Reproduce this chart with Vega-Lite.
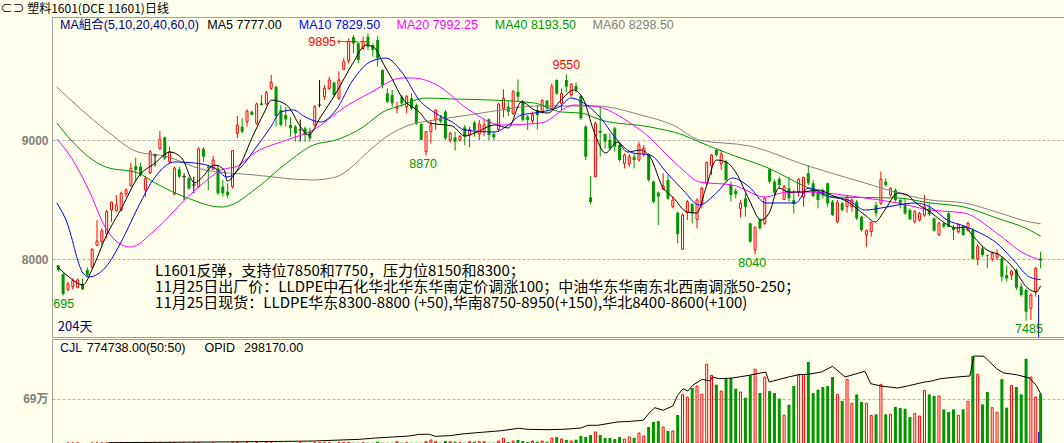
{
"$schema":"https://vega.github.io/schema/vega-lite/v6.json",
"background":"#FFFFEC",
"padding":{"top":2,"left":0,"right":0,"bottom":0},
"spacing":0,
"title":{"text":"⊂⊃ 塑料1601(DCE 11601)日线","anchor":"start","frame":"bounds","font":"Noto Sans CJK SC","fontSize":12,"fontWeight":"normal","color":"#000000","offset":1},
"config":{"view":{"stroke":"#A0A0A0"},"axisY":{"grid":true,"gridDash":[3,2],"gridColor":"#B4B4B4","ticks":false,"domain":false,"labelColor":"#808080","labelFont":"Liberation Sans, Noto Sans CJK SC","labelFontWeight":"bold","labelFontSize":12,"labelPadding":4,"minExtent":51,"maxExtent":51}},
"datasets":{
"k":[
{"i":0,"o":7947,"h":7952,"l":7896,"c":7910,"v":800},
{"i":1,"o":7877,"h":7882,"l":7695,"c":7709,"v":800},
{"i":2,"o":7748,"h":7813,"l":7729,"c":7793,"v":800},
{"i":3,"o":7771,"h":7840,"l":7748,"c":7821,"v":800},
{"i":4,"o":7765,"h":7840,"l":7757,"c":7827,"v":800},
{"i":5,"o":7793,"h":7840,"l":7743,"c":7748,"v":800},
{"i":6,"o":7910,"h":7933,"l":7854,"c":7868,"v":800},
{"i":7,"o":7933,"h":8092,"l":7924,"c":8084,"v":800},
{"i":8,"o":8117,"h":8329,"l":8111,"c":8153,"v":800},
{"i":9,"o":8150,"h":8260,"l":8120,"c":8240,"v":800},
{"i":10,"o":8212,"h":8413,"l":8176,"c":8399,"v":800},
{"i":11,"o":8413,"h":8483,"l":8315,"c":8478,"v":800},
{"i":12,"o":8408,"h":8539,"l":8399,"c":8455,"v":800},
{"i":13,"o":8413,"h":8567,"l":8399,"c":8553,"v":800},
{"i":14,"o":8547,"h":8595,"l":8525,"c":8581,"v":800},
{"i":15,"o":8617,"h":8810,"l":8609,"c":8763,"v":800},
{"i":16,"o":8782,"h":8852,"l":8665,"c":8749,"v":800},
{"i":17,"o":8777,"h":8810,"l":8693,"c":8707,"v":800},
{"i":18,"o":8581,"h":8701,"l":8525,"c":8679,"v":800},
{"i":19,"o":8726,"h":8916,"l":8715,"c":8902,"v":800},
{"i":20,"o":8869,"h":8888,"l":8777,"c":8869,"v":800},
{"i":21,"o":8930,"h":9075,"l":8916,"c":9006,"v":800},
{"i":22,"o":9022,"h":9028,"l":8832,"c":8846,"v":800},
{"i":23,"o":8818,"h":8944,"l":8804,"c":8902,"v":800},
{"i":24,"o":8547,"h":8777,"l":8539,"c":8763,"v":800},
{"i":25,"o":8754,"h":8777,"l":8679,"c":8693,"v":800},
{"i":26,"o":8693,"h":8721,"l":8497,"c":8693,"v":800},
{"i":27,"o":8679,"h":8693,"l":8581,"c":8595,"v":800},
{"i":28,"o":8623,"h":8693,"l":8553,"c":8623,"v":800},
{"i":29,"o":8609,"h":8939,"l":8595,"c":8925,"v":800},
{"i":30,"o":8925,"h":8939,"l":8818,"c":8860,"v":800},
{"i":31,"o":8777,"h":8790,"l":8581,"c":8763,"v":800},
{"i":32,"o":8754,"h":8866,"l":8749,"c":8832,"v":800},
{"i":33,"o":8763,"h":8790,"l":8539,"c":8553,"v":800},
{"i":34,"o":8609,"h":8665,"l":8525,"c":8553,"v":800},
{"i":35,"o":8567,"h":8637,"l":8511,"c":8539,"v":800},
{"i":36,"o":8609,"h":8916,"l":8595,"c":8911,"v":3000},
{"i":37,"o":9056,"h":9201,"l":9014,"c":9126,"v":3000},
{"i":38,"o":9112,"h":9182,"l":9056,"c":9070,"v":3000},
{"i":39,"o":9154,"h":9257,"l":9112,"c":9243,"v":3000},
{"i":40,"o":9237,"h":9243,"l":9210,"c":9210,"v":3000},
{"i":41,"o":9140,"h":9313,"l":9126,"c":9302,"v":3000},
{"i":42,"o":9307,"h":9377,"l":9293,"c":9293,"v":3000},
{"i":43,"o":9302,"h":9411,"l":9293,"c":9397,"v":3000},
{"i":44,"o":9433,"h":9545,"l":9419,"c":9483,"v":3000},
{"i":45,"o":9447,"h":9452,"l":9112,"c":9201,"v":3000},
{"i":46,"o":9251,"h":9293,"l":9112,"c":9126,"v":3000},
{"i":47,"o":9210,"h":9279,"l":9112,"c":9173,"v":3000},
{"i":48,"o":9126,"h":9190,"l":9028,"c":9098,"v":3000},
{"i":49,"o":9112,"h":9126,"l":8986,"c":9056,"v":3000},
{"i":50,"o":9084,"h":9173,"l":8986,"c":9084,"v":3000},
{"i":51,"o":9098,"h":9112,"l":8986,"c":9042,"v":3000},
{"i":52,"o":9070,"h":9103,"l":8986,"c":9014,"v":3000},
{"i":53,"o":9126,"h":9293,"l":9112,"c":9279,"v":3000},
{"i":54,"o":9293,"h":9503,"l":9274,"c":9293,"v":3000},
{"i":55,"o":9363,"h":9461,"l":9335,"c":9433,"v":3000},
{"i":56,"o":9433,"h":9531,"l":9419,"c":9503,"v":3000},
{"i":57,"o":9481,"h":9489,"l":9363,"c":9377,"v":3000},
{"i":58,"o":9349,"h":9573,"l":9335,"c":9503,"v":5200},
{"i":59,"o":9592,"h":9685,"l":9587,"c":9657,"v":5200},
{"i":60,"o":9665,"h":9852,"l":9643,"c":9824,"v":5200},
{"i":61,"o":9861,"h":9880,"l":9726,"c":9810,"v":4000},
{"i":62,"o":9810,"h":9824,"l":9643,"c":9671,"v":5200},
{"i":63,"o":9768,"h":9866,"l":9754,"c":9824,"v":5200},
{"i":64,"o":9866,"h":9895,"l":9754,"c":9782,"v":5200},
{"i":65,"o":9796,"h":9810,"l":9698,"c":9754,"v":5000},
{"i":66,"o":9838,"h":9872,"l":9615,"c":9685,"v":20900},
{"i":67,"o":9587,"h":9592,"l":9433,"c":9461,"v":5200},
{"i":68,"o":9391,"h":9433,"l":9307,"c":9321,"v":5200},
{"i":69,"o":9377,"h":9419,"l":9279,"c":9307,"v":5200},
{"i":70,"o":9265,"h":9321,"l":9223,"c":9279,"v":20900},
{"i":71,"o":9363,"h":9377,"l":9279,"c":9307,"v":5200},
{"i":72,"o":9279,"h":9377,"l":9223,"c":9363,"v":5200},
{"i":73,"o":9349,"h":9391,"l":9251,"c":9265,"v":5200},
{"i":74,"o":9293,"h":9307,"l":9126,"c":9140,"v":5200},
{"i":75,"o":9134,"h":9140,"l":9000,"c":9000,"v":5200},
{"i":76,"o":8902,"h":9070,"l":8870,"c":9070,"v":20900},
{"i":77,"o":9070,"h":9168,"l":8972,"c":9126,"v":47000},
{"i":78,"o":9168,"h":9257,"l":9084,"c":9251,"v":20900},
{"i":79,"o":9190,"h":9210,"l":9140,"c":9154,"v":5200},
{"i":80,"o":9237,"h":9251,"l":9000,"c":9014,"v":31400},
{"i":81,"o":9000,"h":9070,"l":8978,"c":9056,"v":20900},
{"i":82,"o":9022,"h":9070,"l":8911,"c":8986,"v":20900},
{"i":83,"o":9000,"h":9042,"l":8986,"c":9028,"v":5200},
{"i":84,"o":9106,"h":9126,"l":8958,"c":9028,"v":5200},
{"i":85,"o":9042,"h":9112,"l":8939,"c":9089,"v":20900},
{"i":86,"o":9145,"h":9162,"l":9028,"c":9084,"v":20900},
{"i":87,"o":9050,"h":9168,"l":9000,"c":9134,"v":20900},
{"i":88,"o":9070,"h":9173,"l":9034,"c":9126,"v":20900},
{"i":89,"o":9173,"h":9182,"l":9000,"c":9042,"v":5200},
{"i":90,"o":9050,"h":9070,"l":9000,"c":9022,"v":5200},
{"i":91,"o":9089,"h":9307,"l":9070,"c":9302,"v":31400},
{"i":92,"o":9265,"h":9425,"l":9190,"c":9349,"v":73200},
{"i":93,"o":9279,"h":9330,"l":9201,"c":9237,"v":15000},
{"i":94,"o":9223,"h":9419,"l":9210,"c":9405,"v":31400},
{"i":95,"o":9405,"h":9508,"l":9321,"c":9363,"v":47000},
{"i":96,"o":9321,"h":9335,"l":9154,"c":9168,"v":31400},
{"i":97,"o":9196,"h":9210,"l":9084,"c":9168,"v":15000},
{"i":98,"o":9162,"h":9237,"l":9140,"c":9210,"v":31400},
{"i":99,"o":9251,"h":9293,"l":9089,"c":9210,"v":20900},
{"i":100,"o":9237,"h":9341,"l":9223,"c":9330,"v":31400},
{"i":101,"o":9330,"h":9335,"l":9251,"c":9265,"v":20900},
{"i":102,"o":9265,"h":9475,"l":9251,"c":9447,"v":78400},
{"i":103,"o":9503,"h":9508,"l":9377,"c":9390,"v":94100},
{"i":104,"o":9307,"h":9433,"l":9251,"c":9391,"v":62700},
{"i":105,"o":9503,"h":9550,"l":9400,"c":9447,"v":47000},
{"i":106,"o":9377,"h":9475,"l":9363,"c":9467,"v":31400},
{"i":107,"o":9453,"h":9480,"l":9400,"c":9419,"v":52000},
{"i":108,"o":9369,"h":9377,"l":9168,"c":9182,"v":110000},
{"i":109,"o":9112,"h":9126,"l":8832,"c":8860,"v":94100},
{"i":110,"o":8520,"h":8700,"l":8460,"c":8480,"v":125500},
{"i":111,"o":8693,"h":9154,"l":8687,"c":9140,"v":172500},
{"i":112,"o":9078,"h":9279,"l":8860,"c":9061,"v":125500},
{"i":113,"o":9050,"h":9056,"l":8930,"c":8986,"v":78400},
{"i":114,"o":9000,"h":9056,"l":8916,"c":8930,"v":78400},
{"i":115,"o":9098,"h":9112,"l":8902,"c":8944,"v":62700},
{"i":116,"o":8958,"h":8972,"l":8818,"c":8832,"v":94100},
{"i":117,"o":8804,"h":8888,"l":8762,"c":8874,"v":62700},
{"i":118,"o":8799,"h":8882,"l":8771,"c":8860,"v":94100},
{"i":119,"o":8860,"h":8888,"l":8762,"c":8832,"v":78400},
{"i":120,"o":8832,"h":8986,"l":8818,"c":8958,"v":156800},
{"i":121,"o":8888,"h":8958,"l":8860,"c":8930,"v":110000},
{"i":122,"o":8874,"h":8888,"l":8651,"c":8665,"v":251000},
{"i":123,"o":8651,"h":8659,"l":8469,"c":8483,"v":329000},
{"i":124,"o":8559,"h":8567,"l":8288,"c":8525,"v":345000},
{"i":125,"o":8587,"h":8721,"l":8581,"c":8615,"v":251000},
{"i":126,"o":8665,"h":8707,"l":8497,"c":8511,"v":188000},
{"i":127,"o":8441,"h":8525,"l":8427,"c":8497,"v":188000},
{"i":128,"o":8391,"h":8399,"l":8134,"c":8212,"v":439000},
{"i":129,"o":8084,"h":8385,"l":8078,"c":8371,"v":758000},
{"i":130,"o":8391,"h":8497,"l":8330,"c":8483,"v":721000},
{"i":131,"o":8463,"h":8469,"l":8301,"c":8385,"v":862500},
{"i":132,"o":8335,"h":8511,"l":8260,"c":8497,"v":894000},
{"i":133,"o":8469,"h":8609,"l":8427,"c":8595,"v":763000},
{"i":134,"o":8637,"h":8818,"l":8623,"c":8813,"v":1234000},
{"i":135,"o":8782,"h":8882,"l":8707,"c":8874,"v":1061000},
{"i":136,"o":8916,"h":8930,"l":8860,"c":8874,"v":915000},
{"i":137,"o":8799,"h":8916,"l":8748,"c":8882,"v":815000},
{"i":138,"o":8818,"h":8832,"l":8651,"c":8665,"v":1009000},
{"i":139,"o":8623,"h":8651,"l":8483,"c":8539,"v":1019000},
{"i":140,"o":8575,"h":8595,"l":8511,"c":8545,"v":852000},
{"i":141,"o":8427,"h":8497,"l":8352,"c":8469,"v":800000},
{"i":142,"o":8511,"h":8553,"l":8357,"c":8441,"v":711000},
{"i":143,"o":8301,"h":8307,"l":8139,"c":8148,"v":1061000},
{"i":144,"o":8078,"h":8274,"l":8040,"c":8268,"v":1156000},
{"i":145,"o":8335,"h":8343,"l":8246,"c":8260,"v":784000},
{"i":146,"o":8301,"h":8525,"l":8288,"c":8511,"v":1035000},
{"i":147,"o":8754,"h":8762,"l":8637,"c":8651,"v":815000},
{"i":148,"o":8651,"h":8670,"l":8525,"c":8559,"v":784000},
{"i":149,"o":8673,"h":8693,"l":8595,"c":8623,"v":695000},
{"i":150,"o":8503,"h":8623,"l":8497,"c":8609,"v":434000},
{"i":151,"o":8595,"h":8693,"l":8483,"c":8511,"v":601000},
{"i":152,"o":8497,"h":8581,"l":8385,"c":8463,"v":894000},
{"i":153,"o":8567,"h":8679,"l":8525,"c":8670,"v":1077000},
{"i":154,"o":8525,"h":8693,"l":8441,"c":8687,"v":1071000},
{"i":155,"o":8721,"h":8790,"l":8623,"c":8637,"v":1270000},
{"i":156,"o":8637,"h":8665,"l":8519,"c":8531,"v":784000},
{"i":157,"o":8567,"h":8581,"l":8427,"c":8497,"v":836000},
{"i":158,"o":8581,"h":8595,"l":8511,"c":8539,"v":878000},
{"i":159,"o":8637,"h":8642,"l":8441,"c":8469,"v":894000},
{"i":160,"o":8483,"h":8497,"l":8363,"c":8371,"v":1035000},
{"i":161,"o":8315,"h":8497,"l":8301,"c":8475,"v":763000},
{"i":162,"o":8469,"h":8483,"l":8399,"c":8413,"v":659000},
{"i":163,"o":8441,"h":8531,"l":8391,"c":8519,"v":998000},
{"i":164,"o":8441,"h":8511,"l":8399,"c":8497,"v":622000},
{"i":165,"o":8483,"h":8497,"l":8329,"c":8343,"v":763000},
{"i":166,"o":8357,"h":8363,"l":8232,"c":8246,"v":643000},
{"i":167,"o":8204,"h":8251,"l":8106,"c":8240,"v":622000},
{"i":168,"o":8232,"h":8315,"l":8190,"c":8307,"v":434000},
{"i":169,"o":8455,"h":8483,"l":8357,"c":8385,"v":450000},
{"i":170,"o":8469,"h":8735,"l":8455,"c":8670,"v":920000},
{"i":171,"o":8651,"h":8679,"l":8609,"c":8623,"v":450000},
{"i":172,"o":8539,"h":8603,"l":8525,"c":8595,"v":450000},
{"i":173,"o":8581,"h":8595,"l":8483,"c":8497,"v":565000},
{"i":174,"o":8497,"h":8511,"l":8427,"c":8455,"v":549000},
{"i":175,"o":8455,"h":8511,"l":8371,"c":8385,"v":538000},
{"i":176,"o":8413,"h":8427,"l":8329,"c":8335,"v":408000},
{"i":177,"o":8315,"h":8413,"l":8301,"c":8399,"v":460000},
{"i":178,"o":8329,"h":8399,"l":8315,"c":8385,"v":423000},
{"i":179,"o":8371,"h":8539,"l":8357,"c":8441,"v":826000},
{"i":180,"o":8427,"h":8469,"l":8363,"c":8380,"v":763000},
{"i":181,"o":8343,"h":8352,"l":8232,"c":8240,"v":737000},
{"i":182,"o":8204,"h":8315,"l":8195,"c":8301,"v":737000},
{"i":183,"o":8301,"h":8315,"l":8260,"c":8274,"v":528000},
{"i":184,"o":8385,"h":8399,"l":8268,"c":8274,"v":486000},
{"i":185,"o":8268,"h":8288,"l":8162,"c":8246,"v":528000},
{"i":186,"o":8232,"h":8301,"l":8218,"c":8288,"v":434000},
{"i":187,"o":8274,"h":8279,"l":8195,"c":8204,"v":528000},
{"i":188,"o":8246,"h":8315,"l":8232,"c":8301,"v":653000},
{"i":189,"o":8246,"h":8260,"l":8000,"c":8003,"v":1364000},
{"i":190,"o":8000,"h":8128,"l":7952,"c":8106,"v":1077000},
{"i":191,"o":8092,"h":8106,"l":8022,"c":8036,"v":606000},
{"i":192,"o":8036,"h":8040,"l":7924,"c":8030,"v":800000},
{"i":193,"o":8003,"h":8064,"l":7980,"c":8050,"v":554000},
{"i":194,"o":8017,"h":8084,"l":7994,"c":8050,"v":481000},
{"i":195,"o":8008,"h":8022,"l":7813,"c":7854,"v":1004000},
{"i":196,"o":7868,"h":7944,"l":7813,"c":7840,"v":554000},
{"i":197,"o":7868,"h":7910,"l":7827,"c":7902,"v":904000},
{"i":198,"o":7910,"h":7924,"l":7743,"c":7762,"v":878000},
{"i":199,"o":7771,"h":7799,"l":7687,"c":7701,"v":763000},
{"i":200,"o":7743,"h":7757,"l":7485,"c":7561,"v":1322000},
{"i":201,"o":7589,"h":7715,"l":7491,"c":7701,"v":1035000},
{"i":202,"o":7729,"h":7938,"l":7687,"c":7924,"v":721000},
{"i":203,"o":8008,"h":8064,"l":7924,"c":7989,"v":774738}
],
"ma":[
{"s":"60","i":-0.3,"p":9444},{"s":"60","i":9.8,"p":9084},{"s":"60","i":16.5,"p":8899},{"s":"60","i":22,"p":8866},{"s":"60","i":30.2,"p":8749},{"s":"60","i":40.5,"p":8707},{"s":"60","i":52.7,"p":8665},{"s":"60","i":57.4,"p":8690},{"s":"60","i":59.9,"p":8749},{"s":"60","i":64.4,"p":8916},{"s":"60","i":67.7,"p":9025},{"s":"60","i":72.6,"p":9126},{"s":"60","i":77.9,"p":9168},{"s":"60","i":84.9,"p":9210},{"s":"60","i":91.6,"p":9252},{"s":"60","i":98.4,"p":9285},{"s":"60","i":111.5,"p":9285},{"s":"60","i":113.5,"p":9277},{"s":"60","i":120.3,"p":9210},{"s":"60","i":127,"p":9126},{"s":"60","i":132.5,"p":9000},{"s":"60","i":142.8,"p":8950},{"s":"60","i":155,"p":8782},{"s":"60","i":159.7,"p":8723},{"s":"60","i":166.7,"p":8640},{"s":"60","i":173.5,"p":8556},{"s":"60","i":180.2,"p":8497},{"s":"60","i":187.2,"p":8472},{"s":"60","i":193.9,"p":8397},{"s":"60","i":200.7,"p":8313},{"s":"60","i":203,"p":8298.5},
{"s":"40","i":-0.3,"p":9143},{"s":"40","i":3,"p":8983},{"s":"40","i":6.3,"p":8858},{"s":"40","i":9.8,"p":8774},{"s":"40","i":16.5,"p":8723},{"s":"40","i":20,"p":8640},{"s":"40","i":26.7,"p":8514},{"s":"40","i":33.7,"p":8438},{"s":"40","i":35.7,"p":8455},{"s":"40","i":40.5,"p":8581},{"s":"40","i":47.2,"p":8807},{"s":"40","i":52.7,"p":8958},{"s":"40","i":57.4,"p":9000},{"s":"40","i":63,"p":9109},{"s":"40","i":67.1,"p":9235},{"s":"40","i":71.1,"p":9293},{"s":"40","i":75.9,"p":9352},{"s":"40","i":81.4,"p":9344},{"s":"40","i":89.6,"p":9335},{"s":"40","i":98.4,"p":9310},{"s":"40","i":103.9,"p":9235},{"s":"40","i":108,"p":9226},{"s":"40","i":112.1,"p":9168},{"s":"40","i":122.3,"p":9109},{"s":"40","i":129.1,"p":9042},{"s":"40","i":132.5,"p":8983},{"s":"40","i":139.3,"p":8874},{"s":"40","i":146.2,"p":8774},{"s":"40","i":155,"p":8598},{"s":"40","i":159.7,"p":8522},{"s":"40","i":173.5,"p":8514},{"s":"40","i":180.2,"p":8472},{"s":"40","i":187.2,"p":8438},{"s":"40","i":193.9,"p":8346},{"s":"40","i":200.7,"p":8246},{"s":"40","i":203,"p":8193.5},
{"s":"20","i":-0.3,"p":9008},{"s":"20","i":1.6,"p":8916},{"s":"20","i":6.3,"p":8581},{"s":"20","i":9.8,"p":8262},{"s":"20","i":13.2,"p":8120},{"s":"20","i":14.9,"p":8103},{"s":"20","i":20,"p":8246},{"s":"20","i":26.7,"p":8522},{"s":"20","i":30.2,"p":8648},{"s":"20","i":33.7,"p":8749},{"s":"20","i":37,"p":8782},{"s":"20","i":40.5,"p":8891},{"s":"20","i":47.2,"p":9000},{"s":"20","i":52.7,"p":9084},{"s":"20","i":58.9,"p":9268},{"s":"20","i":64.4,"p":9394},{"s":"20","i":71.1,"p":9520},{"s":"20","i":73.2,"p":9520},{"s":"20","i":77.9,"p":9469},{"s":"20","i":84.9,"p":9252},{"s":"20","i":91.6,"p":9126},{"s":"20","i":99.8,"p":9143},{"s":"20","i":106.5,"p":9293},{"s":"20","i":110.6,"p":9285},{"s":"20","i":118.8,"p":9126},{"s":"20","i":122.3,"p":9017},{"s":"20","i":125.8,"p":8874},{"s":"20","i":129.1,"p":8749},{"s":"20","i":132.5,"p":8648},{"s":"20","i":139.3,"p":8623},{"s":"20","i":146.2,"p":8522},{"s":"20","i":149.5,"p":8556},{"s":"20","i":155,"p":8564},{"s":"20","i":165.3,"p":8522},{"s":"20","i":173.5,"p":8472},{"s":"20","i":180.2,"p":8413},{"s":"20","i":187.2,"p":8388},{"s":"20","i":193.9,"p":8221},{"s":"20","i":199.4,"p":8053},{"s":"20","i":203,"p":7992.25},
{"s":"10","i":-0.3,"p":8472},{"s":"10","i":1.6,"p":8329},{"s":"10","i":5.1,"p":7885},{"s":"10","i":6.3,"p":7852},{"s":"10","i":9.8,"p":7935},{"s":"10","i":13.2,"p":8162},{"s":"10","i":16.5,"p":8438},{"s":"10","i":20,"p":8690},{"s":"10","i":24.1,"p":8816},{"s":"10","i":28.2,"p":8807},{"s":"10","i":32.3,"p":8765},{"s":"10","i":34.9,"p":8690},{"s":"10","i":37.8,"p":8774},{"s":"10","i":40.5,"p":8916},{"s":"10","i":43.9,"p":9109},{"s":"10","i":46,"p":9235},{"s":"10","i":48.6,"p":9252},{"s":"10","i":50.7,"p":9201},{"s":"10","i":54.2,"p":9151},{"s":"10","i":57.4,"p":9252},{"s":"10","i":60.9,"p":9503},{"s":"10","i":64.4,"p":9654},{"s":"10","i":67.7,"p":9687},{"s":"10","i":71.1,"p":9562},{"s":"10","i":74.6,"p":9335},{"s":"10","i":77.9,"p":9226},{"s":"10","i":81.4,"p":9151},{"s":"10","i":84,"p":9084},{"s":"10","i":90.2,"p":9067},{"s":"10","i":93,"p":9126},{"s":"10","i":95.7,"p":9210},{"s":"10","i":98.4,"p":9226},{"s":"10","i":103.9,"p":9285},{"s":"10","i":105.9,"p":9352},{"s":"10","i":108.6,"p":9310},{"s":"10","i":112.1,"p":9184},{"s":"10","i":115.5,"p":9000},{"s":"10","i":118.8,"p":8891},{"s":"10","i":122.3,"p":8874},{"s":"10","i":125.8,"p":8723},{"s":"10","i":129.1,"p":8581},{"s":"10","i":132.5,"p":8455},{"s":"10","i":136,"p":8556},{"s":"10","i":139.3,"p":8682},{"s":"10","i":142.8,"p":8606},{"s":"10","i":146.2,"p":8472},{"s":"10","i":152.4,"p":8472},{"s":"10","i":155,"p":8598},{"s":"10","i":159.7,"p":8522},{"s":"10","i":163.2,"p":8497},{"s":"10","i":166.7,"p":8413},{"s":"10","i":170,"p":8430},{"s":"10","i":173.5,"p":8455},{"s":"10","i":177,"p":8472},{"s":"10","i":180.2,"p":8438},{"s":"10","i":183.7,"p":8329},{"s":"10","i":187.2,"p":8279},{"s":"10","i":190.5,"p":8221},{"s":"10","i":193.9,"p":8137},{"s":"10","i":197.4,"p":7994},{"s":"10","i":200.7,"p":7852},{"s":"10","i":203,"p":7829.5},
{"s":"5","i":-0.3,"p":7944},{"s":"5","i":2.2,"p":7852},{"s":"5","i":5.1,"p":7785},{"s":"5","i":7.1,"p":7926},{"s":"5","i":9.8,"p":8187},{"s":"5","i":13.2,"p":8438},{"s":"5","i":16.5,"p":8690},{"s":"5","i":20,"p":8807},{"s":"5","i":23.1,"p":8899},{"s":"5","i":25.5,"p":8849},{"s":"5","i":28.2,"p":8640},{"s":"5","i":29.6,"p":8682},{"s":"5","i":32.3,"p":8790},{"s":"5","i":34.3,"p":8749},{"s":"5","i":34.9,"p":8656},{"s":"5","i":37,"p":8749},{"s":"5","i":40.5,"p":9059},{"s":"5","i":42.5,"p":9226},{"s":"5","i":44.1,"p":9335},{"s":"5","i":47.2,"p":9293},{"s":"5","i":50.1,"p":9109},{"s":"5","i":51.7,"p":9042},{"s":"5","i":54.2,"p":9193},{"s":"5","i":57.4,"p":9394},{"s":"5","i":60.9,"p":9645},{"s":"5","i":63.6,"p":9796},{"s":"5","i":65.4,"p":9771},{"s":"5","i":67.1,"p":9645},{"s":"5","i":69.1,"p":9503},{"s":"5","i":71.1,"p":9352},{"s":"5","i":74.6,"p":9235},{"s":"5","i":76.7,"p":9143},{"s":"5","i":81.4,"p":9117},{"s":"5","i":84,"p":9034},{"s":"5","i":86.1,"p":9059},{"s":"5","i":90.2,"p":9126},{"s":"5","i":93,"p":9101},{"s":"5","i":95.7,"p":9319},{"s":"5","i":98.4,"p":9252},{"s":"5","i":101.2,"p":9226},{"s":"5","i":103.9,"p":9335},{"s":"5","i":106.5,"p":9419},{"s":"5","i":108.6,"p":9335},{"s":"5","i":110.6,"p":9084},{"s":"5","i":113.1,"p":8891},{"s":"5","i":115.5,"p":8983},{"s":"5","i":117.6,"p":8899},{"s":"5","i":120.3,"p":8916},{"s":"5","i":122.3,"p":8858},{"s":"5","i":125,"p":8598},{"s":"5","i":127,"p":8522},{"s":"5","i":129.9,"p":8397},{"s":"5","i":131.9,"p":8388},{"s":"5","i":133.9,"p":8606},{"s":"5","i":136,"p":8832},{"s":"5","i":138,"p":8816},{"s":"5","i":140.1,"p":8723},{"s":"5","i":142.8,"p":8497},{"s":"5","i":145.2,"p":8329},{"s":"5","i":146.9,"p":8388},{"s":"5","i":148.9,"p":8598},{"s":"5","i":150.9,"p":8564},{"s":"5","i":153.6,"p":8564},{"s":"5","i":157.1,"p":8581},{"s":"5","i":159.7,"p":8539},{"s":"5","i":163.2,"p":8480},{"s":"5","i":166.7,"p":8371},{"s":"5","i":168.8,"p":8313},{"s":"5","i":170.8,"p":8413},{"s":"5","i":173.5,"p":8556},{"s":"5","i":175.5,"p":8539},{"s":"5","i":177,"p":8480},{"s":"5","i":180.2,"p":8397},{"s":"5","i":182.3,"p":8329},{"s":"5","i":185.7,"p":8262},{"s":"5","i":187.2,"p":8271},{"s":"5","i":189.2,"p":8187},{"s":"5","i":191.9,"p":8078},{"s":"5","i":194.5,"p":8036},{"s":"5","i":197.4,"p":7926},{"s":"5","i":200.1,"p":7768},{"s":"5","i":202.1,"p":7726},{"s":"5","i":203,"p":7777}
],
"op":[
{"i":10.4,"v":2000},{"i":31.7,"v":6000},{"i":43.9,"v":9000},{"i":52.7,"v":12000},{"i":62.4,"v":22400},{"i":65.6,"v":30200},{"i":69.1,"v":36300},{"i":72.6,"v":42300},{"i":74.6,"v":52600},{"i":76.7,"v":52600},{"i":77.9,"v":40500},{"i":80.8,"v":44100},{"i":84,"v":56200},{"i":87.5,"v":64700},{"i":91.6,"v":74400},{"i":95.1,"v":88900},{"i":97.1,"v":82900},{"i":101.2,"v":80400},{"i":104.5,"v":82900},{"i":108,"v":90700},{"i":109.4,"v":107000},{"i":111.5,"v":107000},{"i":115.5,"v":127000},{"i":118.2,"v":131200},{"i":120.9,"v":137300},{"i":122.3,"v":187500},{"i":123.3,"v":213500},{"i":125,"v":197800},{"i":127,"v":223800},{"i":128,"v":288500},{"i":129.1,"v":328400},{"i":130.1,"v":314500},{"i":131.1,"v":349000},{"i":133.1,"v":385300},{"i":134.6,"v":375000},{"i":135.2,"v":399200},{"i":136.6,"v":388900},{"i":139.3,"v":393100},{"i":142.8,"v":409400},{"i":146.2,"v":429400},{"i":146.9,"v":368900},{"i":150.9,"v":399200},{"i":153,"v":413100},{"i":155,"v":415500},{"i":157.7,"v":429400},{"i":160,"v":463900},{"i":162.6,"v":399200},{"i":166.7,"v":433600},{"i":167.9,"v":358600},{"i":170,"v":344700},{"i":173.5,"v":332600},{"i":175.5,"v":344700},{"i":179,"v":368900},{"i":180.2,"v":373200},{"i":182.3,"v":388900},{"i":185.7,"v":399200},{"i":188.4,"v":405200},{"i":189.2,"v":526200},{"i":191.3,"v":524400},{"i":193.9,"v":449400},{"i":195.4,"v":423400},{"i":198,"v":413100},{"i":200.7,"v":393100},{"i":202.1,"v":349000},{"i":203,"v":298170}
]
},
"vconcat":[
{
"width":1014,"height":320,
"data":{"name":"k"},
"layer":[
{"mark":{"type":"rule","strokeWidth":1},
 "encoding":{
  "x":{"field":"i","type":"quantitative","scale":{"domain":[-0.266,207.22],"nice":false,"zero":false},"axis":null},
  "y":{"field":"l","type":"quantitative","title":null,"scale":{"domain":[7348.8,10031],"nice":false,"zero":false},"axis":{"values":[8000,9000],"format":"d","title":null}},
  "y2":{"field":"h"},
  "color":{"condition":[{"test":"datum.c>datum.o","value":"#FF0000"},{"test":"datum.c<datum.o","value":"#009600"}],"value":"#000000"}}},
{"transform":[{"filter":"datum.c>datum.o"}],
 "mark":{"type":"bar","orient":"vertical","width":2,"fill":"#FFFFEC","stroke":"#FF0000","strokeWidth":1},
 "encoding":{"x":{"field":"i","type":"quantitative","axis":null},"y":{"field":"o","type":"quantitative","title":null},"y2":{"field":"c"}}},
{"transform":[{"filter":"datum.c<datum.o"}],
 "mark":{"type":"bar","orient":"vertical","width":3,"fill":"#009600","strokeWidth":0},
 "encoding":{"x":{"field":"i","type":"quantitative","axis":null},"y":{"field":"o","type":"quantitative","title":null},"y2":{"field":"c"}}},
{"transform":[{"filter":"datum.c==datum.o"}],
 "mark":{"type":"tick","orient":"horizontal","size":4,"thickness":1,"color":"#000000"},
 "encoding":{"x":{"field":"i","type":"quantitative","axis":null},"y":{"field":"o","type":"quantitative","title":null}}},
{"data":{"name":"ma"},
 "mark":{"type":"line","strokeWidth":1,"interpolate":"monotone"},
 "encoding":{"x":{"field":"i","type":"quantitative","axis":null},"y":{"field":"p","type":"quantitative","title":null},
  "color":{"field":"s","type":"nominal","scale":{"domain":["60","40","20","10","5"],"range":["#808080","#009600","#FF00FF","#0000FF","#000000"]},"legend":null}}},
{"data":{"values":[{}]},"mark":{"type":"rule","color":"#0000C0","strokeWidth":1},
 "encoding":{"x":{"datum":202.6,"type":"quantitative","axis":null},"y":{"datum":7701,"type":"quantitative","title":null},"y2":{"datum":7348.8}}},
{"data":{"values":[{}]},"mark":{"type":"text","align":"left","baseline":"middle","font":"Liberation Sans, Noto Sans CJK SC","fontSize":12.5,"color":"#000080"},
 "encoding":{"x":{"datum":0.35,"type":"quantitative","axis":null},"y":{"datum":9964,"type":"quantitative","title":null},"text":{"value":"MA組合(5,10,20,40,60,0)"}}},
{"data":{"values":[{}]},"mark":{"type":"text","align":"left","baseline":"middle","font":"Liberation Sans","fontSize":12.5,"color":"#000000"},
 "encoding":{"x":{"datum":30.8,"type":"quantitative","axis":null},"y":{"datum":9964,"type":"quantitative","title":null},"text":{"value":"MA5 7777.00"}}},
{"data":{"values":[{}]},"mark":{"type":"text","align":"left","baseline":"middle","font":"Liberation Sans","fontSize":12.5,"color":"#0000FF"},
 "encoding":{"x":{"datum":49.7,"type":"quantitative","axis":null},"y":{"datum":9964,"type":"quantitative","title":null},"text":{"value":"MA10 7829.50"}}},
{"data":{"values":[{}]},"mark":{"type":"text","align":"left","baseline":"middle","font":"Liberation Sans","fontSize":12.5,"color":"#FF00FF"},
 "encoding":{"x":{"datum":69.9,"type":"quantitative","axis":null},"y":{"datum":9964,"type":"quantitative","title":null},"text":{"value":"MA20 7992.25"}}},
{"data":{"values":[{}]},"mark":{"type":"text","align":"left","baseline":"middle","font":"Liberation Sans","fontSize":12.5,"color":"#009600"},
 "encoding":{"x":{"datum":90.2,"type":"quantitative","axis":null},"y":{"datum":9964,"type":"quantitative","title":null},"text":{"value":"MA40 8193.50"}}},
{"data":{"values":[{}]},"mark":{"type":"text","align":"left","baseline":"middle","font":"Liberation Sans","fontSize":12.5,"color":"#808080"},
 "encoding":{"x":{"datum":110.4,"type":"quantitative","axis":null},"y":{"datum":9964,"type":"quantitative","title":null},"text":{"value":"MA60 8298.50"}}},
{"data":{"values":[{}]},"mark":{"type":"text","align":"right","baseline":"middle","font":"Liberation Sans","fontSize":12.5,"color":"#FF0000"},
 "encoding":{"x":{"datum":57.4,"type":"quantitative","axis":null},"y":{"datum":9824,"type":"quantitative","title":null},"text":{"value":"9895"}}},
{"data":{"values":[{}]},"mark":{"type":"text","align":"left","baseline":"middle","font":"DejaVu Sans","fontSize":10,"color":"#FF0000"},
 "encoding":{"x":{"datum":57.6,"type":"quantitative","axis":null},"y":{"datum":9824,"type":"quantitative","title":null},"text":{"value":"←"}}},
{"data":{"values":[{}]},"mark":{"type":"rule","color":"#FF0000","strokeDash":[3,2],"strokeWidth":1},
 "encoding":{"x":{"datum":59.2,"type":"quantitative","axis":null},"x2":{"datum":63.8},"y":{"datum":9824,"type":"quantitative","title":null}}},
{"data":{"values":[{}]},"mark":{"type":"text","align":"center","baseline":"middle","font":"Liberation Sans","fontSize":12.5,"color":"#FF0000"},
 "encoding":{"x":{"datum":105,"type":"quantitative","axis":null},"y":{"datum":9629,"type":"quantitative","title":null},"text":{"value":"9550"}}},
{"data":{"values":[{}]},"mark":{"type":"text","align":"center","baseline":"middle","font":"Liberation Sans","fontSize":12.5,"color":"#009600"},
 "encoding":{"x":{"datum":75.4,"type":"quantitative","axis":null},"y":{"datum":8796,"type":"quantitative","title":null},"text":{"value":"8870"}}},
{"data":{"values":[{}]},"mark":{"type":"text","align":"center","baseline":"middle","font":"Liberation Sans","fontSize":12.5,"color":"#009600"},
 "encoding":{"x":{"datum":143.4,"type":"quantitative","axis":null},"y":{"datum":7972,"type":"quantitative","title":null},"text":{"value":"8040"}}},
{"data":{"values":[{}]},"mark":{"type":"text","align":"center","baseline":"middle","font":"Liberation Sans","fontSize":12.5,"color":"#009600"},
 "encoding":{"x":{"datum":200.6,"type":"quantitative","axis":null},"y":{"datum":7413,"type":"quantitative","title":null},"text":{"value":"7485"}}},
{"data":{"values":[{}]},"mark":{"type":"text","align":"center","baseline":"middle","font":"Liberation Sans","fontSize":12.5,"color":"#009600","clip":true},
 "encoding":{"x":{"datum":0.4,"type":"quantitative","axis":null},"y":{"datum":7625,"type":"quantitative","title":null},"text":{"value":"7695"}}},
{"data":{"values":[{}]},"mark":{"type":"text","align":"left","baseline":"middle","font":"Noto Sans CJK SC","fontSize":13,"color":"#000080"},
 "encoding":{"x":{"datum":-0.1,"type":"quantitative","axis":null},"y":{"datum":7433,"type":"quantitative","title":null},"text":{"value":"204天"}}},
{"data":{"values":[{}]},"mark":{"type":"text","align":"left","baseline":"middle","font":"Noto Sans CJK SC","fontSize":15,"lineHeight":16,"color":"#000000"},
 "encoding":{"x":{"datum":20,"type":"quantitative","axis":null},"y":{"datum":7902,"type":"quantitative","title":null},"text":{"value":["L1601反弹，支持位7850和7750，压力位8150和8300；","11月25日出厂价：LLDPE中石化华北华东华南定价调涨100；中油华东华南东北西南调涨50-250；","11月25日现货：LLDPE华东8300-8800 (+50),华南8750-8950(+150),华北8400-8600(+100)"]}}}
]
},
{
"width":1014,"height":104,
"layer":[
{"data":{"name":"k"},
 "layer":[
 {"transform":[{"filter":"datum.c>=datum.o"}],
  "mark":{"type":"bar","orient":"vertical","width":2,"fill":"#FFFFEC","stroke":"#FF0000","strokeWidth":1},
  "encoding":{"x":{"field":"i","type":"quantitative","scale":{"domain":[-0.266,207.22],"nice":false,"zero":false},"axis":null},
   "y":{"field":"v","type":"quantitative","title":null,"scale":{"domain":[0,1630900],"nice":false,"zero":false},"axis":{"values":[690000],"labelExpr":"'69万'","title":null}},
   "y2":{"datum":0}}},
 {"transform":[{"filter":"datum.c<datum.o"}],
  "mark":{"type":"bar","orient":"vertical","width":3,"fill":"#009600","strokeWidth":0},
  "encoding":{"x":{"field":"i","type":"quantitative","axis":null},"y":{"field":"v","type":"quantitative","title":null},"y2":{"datum":0}}},
 {"data":{"values":[{}]},"mark":{"type":"rule","color":"#0000C0","strokeWidth":1},
  "encoding":{"x":{"datum":202.6,"type":"quantitative","axis":null},"y":{"datum":0,"type":"quantitative","title":null},"y2":{"datum":172500}}},
 {"data":{"values":[{}]},"mark":{"type":"text","align":"left","baseline":"middle","font":"Liberation Sans","fontSize":12.5,"color":"#000080"},
  "encoding":{"x":{"datum":0.35,"type":"quantitative","axis":null},"y":{"datum":1489800,"type":"quantitative","title":null},"text":{"value":"CJL"}}},
 {"data":{"values":[{}]},"mark":{"type":"text","align":"left","baseline":"middle","font":"Liberation Sans","fontSize":12.5,"color":"#000000"},
  "encoding":{"x":{"datum":5.9,"type":"quantitative","axis":null},"y":{"datum":1489800,"type":"quantitative","title":null},"text":{"value":"774738.00(50:50)"}}},
 {"data":{"values":[{}]},"mark":{"type":"text","align":"left","baseline":"middle","font":"Liberation Sans","fontSize":12.5,"color":"#000000"},
  "encoding":{"x":{"datum":30.2,"type":"quantitative","axis":null},"y":{"datum":1489800,"type":"quantitative","title":null},"text":{"value":"OPID"}}},
 {"data":{"values":[{}]},"mark":{"type":"text","align":"left","baseline":"middle","font":"Liberation Sans","fontSize":12.5,"color":"#000000"},
  "encoding":{"x":{"datum":38.4,"type":"quantitative","axis":null},"y":{"datum":1489800,"type":"quantitative","title":null},"text":{"value":"298170.00"}}}
 ]},
{"data":{"name":"op"},
 "mark":{"type":"line","color":"#000000","strokeWidth":1},
 "encoding":{"x":{"field":"i","type":"quantitative","axis":null},"y":{"field":"v","type":"quantitative","scale":{"domain":[0,629000],"nice":false,"zero":false},"axis":null}}}
],
"resolve":{"scale":{"y":"independent"}}
}
]
}
